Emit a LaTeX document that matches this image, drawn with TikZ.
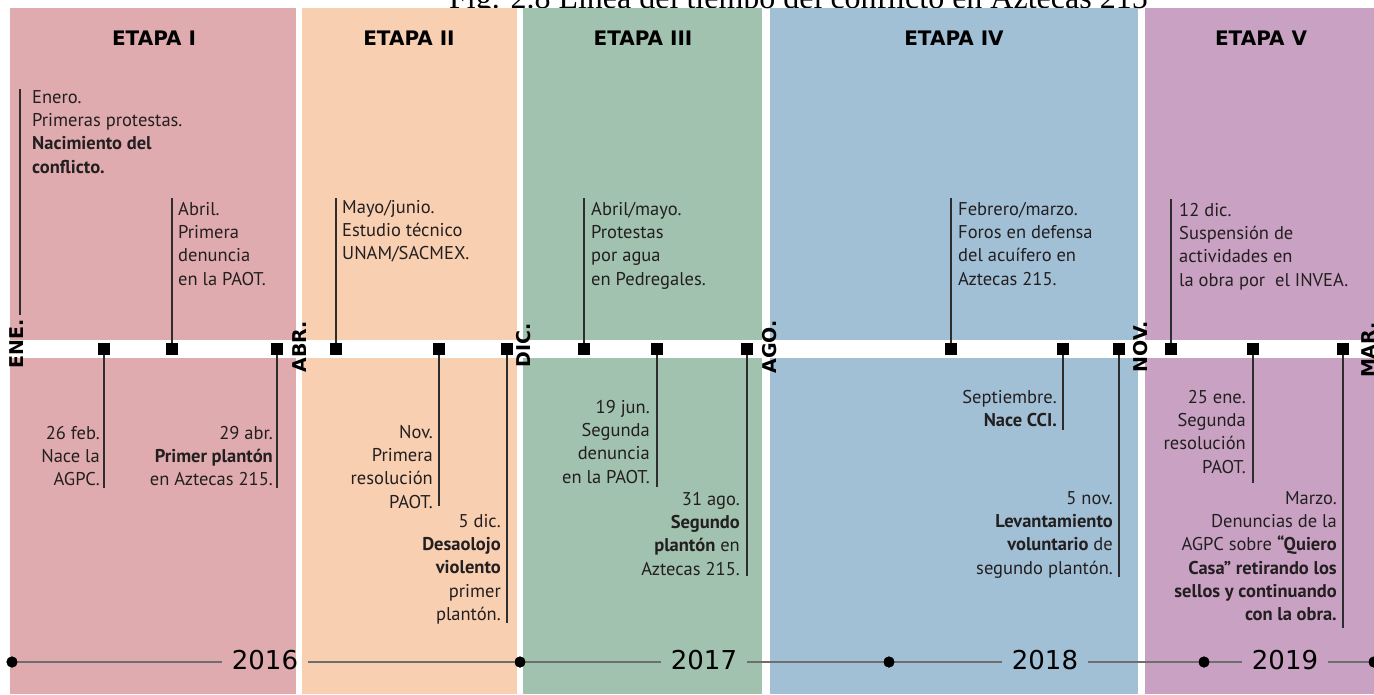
\documentclass[tikz,border=0pt]{standalone}
\usepackage{fontspec}
\setmainfont{PT Sans}
\newfontfamily\hdrfont{DejaVu Sans}
\newfontfamily\capfont{Liberation Serif}
\definecolor{pinkc}{RGB}{224,171,175}
\definecolor{peachc}{RGB}{249,207,177}
\definecolor{greenc}{RGB}{161,194,174}
\definecolor{bluec}{RGB}{161,192,213}
\definecolor{purplec}{RGB}{201,162,195}
\definecolor{txtc}{RGB}{35,31,32}
\definecolor{linec}{RGB}{45,45,45}
\definecolor{yearline}{RGB}{110,110,110}
\newcommand\evfont{\fontsize{18.5}{23.3}\selectfont}
\tikzset{
  sq/.style={rectangle, fill=black, minimum size=11pt, inner sep=0pt},
  conn/.style={draw=linec, line width=1.4pt},
  evl/.style={anchor=north west, align=left, inner sep=0pt, font=\evfont, text=txtc},
  evr/.style={anchor=north east, align=right, inner sep=0pt, font=\evfont, text=txtc},
  month/.style={rotate=90, inner sep=0pt, font={\hdrfont\bfseries\fontsize{19}{20}\selectfont}},
  stage/.style={anchor=base, inner sep=0pt, font={\hdrfont\bfseries\fontsize{20}{22}\selectfont}},
  year/.style={anchor=base, inner xsep=10pt, inner ysep=0pt, font={\hdrfont\fontsize{26}{30}\selectfont}},
  dot/.style={circle, fill=black, minimum size=11pt, inner sep=0pt},
  tl/.style={draw=yearline, line width=2.5pt}
}
\begin{document}
\begin{tikzpicture}[x=1pt,y=-1pt]
\useasboundingbox (0,0) rectangle (1374,694);
\clip (0,0) rectangle (1374,694);
\fill[white] (0,0) rectangle (1374,694);
% title (partly hidden by the panels)
\node[anchor=base west, inner sep=0pt, font={\capfont\fontsize{32}{36}\selectfont}] (title) at (449,8) {Fig. 2.8 Línea del tiempo del conflicto en Aztecas 215};
% panels
\fill[pinkc] (10,7.5) rectangle (296,694);
\fill[peachc] (302,7.5) rectangle (517,694);
\fill[greenc] (523,7.5) rectangle (762,694);
\fill[bluec] (770,7.5) rectangle (1138,694);
\fill[purplec] (1145,7.5) rectangle (1374,694);
% white band
\fill[white] (0,340) rectangle (1374,358);
% stage headers
\node[stage] (e1) at (154,45) {ETAPA I};
\node[stage] (e2) at (409,45) {ETAPA II};
\node[stage] (e3) at (643,45) {ETAPA III};
\node[stage] (e4) at (954,45) {ETAPA IV};
\node[stage] (e5) at (1261,45) {ETAPA V};
% month labels
\node[month] (mene) at (17,344) {ENE.};
\node[month] (mabr) at (300,347) {ABR.};
\node[month] (mdic) at (524,345) {DIC.};
\node[month] (mago) at (770,347) {AGO.};
\node[month] (mnov) at (1141,347) {NOV.};
\node[month] (mmar) at (1369,350) {MAR.};
% squares
\node[sq] (s1) at (104,349) {};
\node[sq] (s2) at (172,349) {};
\node[sq] (s3) at (277,349) {};
\node[sq] (s4) at (336,349) {};
\node[sq] (s5) at (439,349) {};
\node[sq] (s6) at (507,349) {};
\node[sq] (s7) at (584,349) {};
\node[sq] (s8) at (657,349) {};
\node[sq] (s9) at (747,349) {};
\node[sq] (s10) at (951,349) {};
\node[sq] (s11) at (1063,349) {};
\node[sq] (s12) at (1119,349) {};
\node[sq] (s13) at (1171,349) {};
\node[sq] (s14) at (1253,349) {};
\node[sq] (s15) at (1343,349) {};
% line ends
\coordinate (c0a) at (20,89);
\coordinate (c0b) at (20,315);
\coordinate (c2) at (172,198);
\coordinate (c4) at (336,198);
\coordinate (c7) at (584,198);
\coordinate (c10) at (951,198);
\coordinate (c13) at (1171,199);
\coordinate (c1) at (104,488);
\coordinate (c3) at (277,488);
\coordinate (c5) at (439,506);
\coordinate (c6) at (507,623);
\coordinate (c8) at (657,487);
\coordinate (c9) at (747,576);
\coordinate (c11) at (1063,430);
\coordinate (c12) at (1119,577);
\coordinate (c14) at (1253,483);
\coordinate (c15) at (1343,628);
\draw[conn] (c0a) -- (c0b);
\draw[conn] (s1.center) -- (c1);
\draw[conn] (s2.center) -- (c2);
\draw[conn] (s3.center) -- (c3);
\draw[conn] (s4.center) -- (c4);
\draw[conn] (s5.center) -- (c5);
\draw[conn] (s6.center) -- (c6);
\draw[conn] (s7.center) -- (c7);
\draw[conn] (s8.center) -- (c8);
\draw[conn] (s9.center) -- (c9);
\draw[conn] (s10.center) -- (c10);
\draw[conn] (s11.center) -- (c11);
\draw[conn] (s12.center) -- (c12);
\draw[conn] (s13.center) -- (c13);
\draw[conn] (s14.center) -- (c14);
\draw[conn] (s15.center) -- (c15);
% redraw squares on top
\foreach \n in {s1,s2,s3,s4,s5,s6,s7,s8,s9,s10,s11,s12,s13,s14,s15}{\fill[black] (\n.south west) rectangle (\n.north east);}
% top texts (first baseline = y + 16.3)
\node[evl] (t0) at (32,86.7) {\strut Enero.\\Primeras protestas.\\\textbf{Nacimiento del}\\\textbf{conflicto.}};
\node[evl] (t2) at (178,198.7) {\strut Abril.\\Primera\\denuncia\\en la PAOT.};
\node[evl] (t4) at (342,196.7) {\strut Mayo/junio.\\Estudio técnico\\UNAM/SACMEX.};
\node[evl] (t7) at (591,198.7) {\strut Abril/mayo.\\Protestas\\por agua\\en Pedregales.};
\node[evl] (t10) at (958,198.7) {\strut Febrero/marzo.\\Foros en defensa\\del acuífero en\\Aztecas 215.};
\node[evl] (t13) at (1179,199.7) {\strut 12 dic.\\Suspensión de\\actividades en\\la obra por\ \ el INVEA.};
% bottom texts
\node[evr] (t1) at (100,422.7) {\strut 26 feb.\\Nace la\\AGPC.};
\node[evr] (t3) at (273,422.7) {\strut 29 abr.\\\textbf{Primer plantón}\\en Aztecas 215.};
\node[evr] (t5) at (433,421.7) {\strut Nov.\\Primera\\resolución\\PAOT.};
\node[evr] (t6) at (501,510.7) {\strut 5 dic.\\\textbf{Desaolojo}\\\textbf{violento}\\primer\\plantón.};
\node[evr] (t8) at (650,396.7) {\strut 19 jun.\\Segunda\\denuncia\\en la PAOT.};
\node[evr] (t9) at (740,488.7) {\strut 31 ago.\\\textbf{Segundo}\\\textbf{plantón} en\\Aztecas 215.};
\node[evr] (t11) at (1057,386.7) {\strut Septiembre.\\\textbf{Nace CCI.}};
\node[evr] (t12) at (1113,487.7) {\strut 5 nov.\\\textbf{Levantamiento}\\\textbf{voluntario} de\\segundo plantón.};
\node[evr] (t14) at (1246,386.7) {\strut 25 ene.\\Segunda\\resolución\\PAOT.};
\node[evr] (t15) at (1337,487.7) {\strut Marzo.\\Denuncias de la\\AGPC sobre \textbf{“Quiero}\\\textbf{Casa” retirando los}\\\textbf{sellos y continuando}\\\textbf{con la obra.}};
% bottom year line
\node[dot] (d0) at (12,662) {};
\node[dot] (d1) at (520,662) {};
\node[dot] (d2) at (889,662) {};
\node[dot] (d3) at (1204,662) {};
\node[dot] (d4) at (1374,662) {};
\node[year] (y16) at (265,669) {2016};
\node[year] (y17) at (704,669) {2017};
\node[year] (y18) at (1045,669) {2018};
\node[year] (y19) at (1285,669) {2019};
\draw[tl] (d0) -- (d0 -| y16.west);
\draw[tl] (d1 -| y16.east) -- (d1);
\draw[tl] (d1) -- (d1 -| y17.west);
\draw[tl] (d2 -| y17.east) -- (d2);
\draw[tl] (d2) -- (d2 -| y18.west);
\draw[tl] (d3 -| y18.east) -- (d3);
\draw[tl] (d3) -- (d3 -| y19.west);
\draw[tl] (d4 -| y19.east) -- (d4);
\foreach \n in {d0,d1,d2,d3,d4}{\fill[black] (\n) circle (5.5pt);}
\end{tikzpicture}
\end{document}
